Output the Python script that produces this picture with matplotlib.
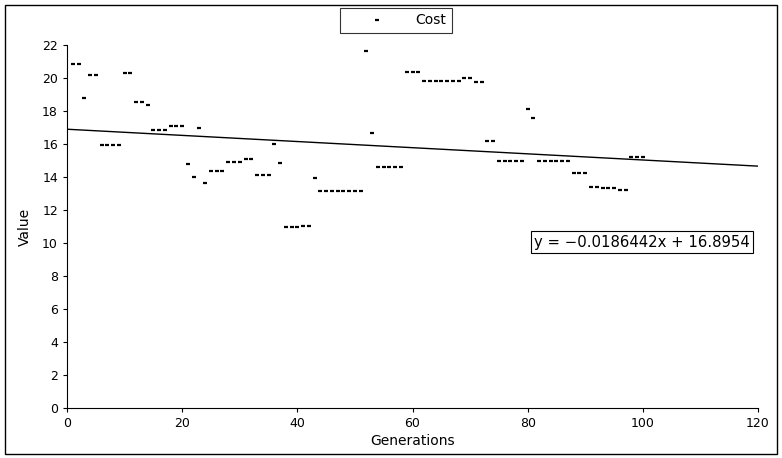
import matplotlib
matplotlib.use("Agg")
import numpy as np
import matplotlib.pyplot as plt
from matplotlib.patches import Rectangle

# ── data ──────────────────────────────────────────────────────────────────────
generations = list(range(1, 101))
cost = [
    20.85, 20.85, 18.79, 20.18, 20.18,                      # 1-5
    15.94, 15.94, 15.94, 15.94, 20.28,                      # 6-10
    20.28, 18.53, 18.53, 18.36, 16.85,                      # 11-15
    16.85, 16.85, 17.09, 17.09, 17.09,                      # 16-20
    14.79, 14.02, 16.95, 13.66, 14.36,                      # 21-25
    14.36, 14.36, 14.91, 14.91, 14.91,                      # 26-30
    15.07, 15.07, 14.12, 14.12, 14.12,                      # 31-35
    15.98, 14.85, 10.98, 10.98, 10.98,                      # 36-40
    11.02, 11.02, 13.92, 13.16, 13.16,                      # 41-45
    13.16, 13.16, 13.16, 13.16, 13.16,                      # 46-50
    13.16, 21.62, 16.67, 14.59, 14.59,                      # 51-55
    14.59, 14.59, 14.59, 20.36, 20.36,                      # 56-60
    20.36, 19.84, 19.84, 19.84, 19.84,                      # 61-65
    19.84, 19.84, 19.84, 20.02, 20.02,                      # 66-70
    19.74, 19.74, 16.16, 16.16, 14.98,                      # 71-75
    14.98, 14.98, 14.98, 14.98, 18.10,                      # 76-80
    17.56, 14.95, 14.95, 14.95, 14.95,                      # 81-85
    14.95, 14.95, 14.24, 14.24, 14.24,                      # 86-90
    13.42, 13.42, 13.35, 13.35, 13.35,                      # 91-95
    13.19, 13.19, 15.23, 15.23, 15.23,                      # 96-100
]
slope = -0.0186442
intercept = 16.8954
x_ticks = [0, 20, 40, 60, 80, 100, 120]
y_ticks = list(range(0, 23, 2))

# ── figure ────────────────────────────────────────────────────────────────────
fig = plt.figure(figsize=(7.82, 4.58), dpi=100)
ax = fig.add_axes([67 / 782, 50 / 458, 691 / 782, 363 / 458])

ax.plot(generations, cost, ls="none", marker="_", ms=3.5, mew=1.6,
        color="black", label="Cost", zorder=3)

# trend line across the full x range
xs = np.array([0, 120])
ax.plot(xs, slope * xs + intercept, color="black", lw=1.0, zorder=2)

ax.text(118.6, 10.05, f"y = \u2212{abs(slope):.7f}x + {intercept:.4f}",
        ha="right", va="center", fontsize=10.7,
        bbox=dict(fc="white", ec="black", lw=0.8, pad=2.5))

ax.set_xlim(0, 120)
ax.set_ylim(0, 22)
ax.set_xticks(x_ticks)
ax.set_yticks(y_ticks)
ax.tick_params(direction="out", length=3, labelsize=9, width=0.8)
for s in ("top", "right"):
    ax.spines[s].set_visible(False)
ax.set_xlabel("Generations", fontsize=10, labelpad=3)
ax.set_ylabel("Value", fontsize=10, labelpad=7)

leg = fig.legend(loc="center", bbox_to_anchor=(396 / 782, 1 - 20.5 / 458),
                 fontsize=10, frameon=True, fancybox=False, handlelength=4.5,
                 handletextpad=0.5, borderpad=0.4)
leg.get_frame().set_edgecolor("black")
leg.get_frame().set_linewidth(0.8)

# outer border around the whole figure
fig.patches.append(Rectangle((5 / 782, 4 / 458), 772 / 782, 449 / 458,
                             transform=fig.transFigure, fill=False,
                             ec="black", lw=1.0))

fig.savefig("out.png", dpi=100)
